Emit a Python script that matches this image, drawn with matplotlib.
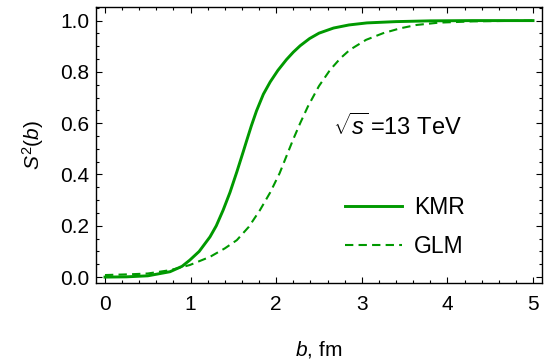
import matplotlib
matplotlib.use('Agg')
import matplotlib.pyplot as plt
from matplotlib.ticker import MultipleLocator, FormatStrFormatter

plt.rcParams['font.family'] = ['Liberation Sans', 'DejaVu Sans']
plt.rcParams['mathtext.fontset'] = 'custom'
plt.rcParams['mathtext.rm'] = 'Liberation Sans'
plt.rcParams['mathtext.it'] = 'Liberation Sans:italic'

# Valeurs
b_kmr = [0.0, 0.25, 0.5, 0.76, 0.9, 0.99, 1.1, 1.227, 1.3, 1.38, 1.46, 1.54, 1.616,
         1.655, 1.71, 1.77, 1.85, 1.93, 2.02, 2.12, 2.2, 2.28, 2.39, 2.5, 2.67,
         2.85, 3.06, 3.4, 3.8, 4.3, 5.0]
s2_kmr = [0.0, 0.001, 0.005, 0.021, 0.042, 0.066, 0.10, 0.157, 0.20, 0.261, 0.33,
          0.41, 0.49, 0.532, 0.59, 0.648, 0.713, 0.761, 0.806, 0.848, 0.877,
          0.902, 0.93, 0.951, 0.971, 0.983, 0.991, 0.996, 0.999, 1.0, 1.0]

b_glm = [0.0, 0.3, 0.5, 0.76, 0.99, 1.227, 1.4, 1.54, 1.68, 1.81, 1.93, 2.04, 2.1,
         2.16, 2.2, 2.28, 2.37, 2.5, 2.63, 2.75, 2.86, 3.05, 3.25, 3.45, 3.64,
         3.9, 4.3, 5.0]
s2_glm = [0.008, 0.011, 0.014, 0.027, 0.047, 0.079, 0.112, 0.144, 0.196, 0.261,
          0.33, 0.405, 0.455, 0.505, 0.538, 0.60, 0.665, 0.745, 0.808, 0.853, 0.886,
          0.925, 0.951, 0.970, 0.983, 0.992, 0.997, 1.0]

vert = '#009900'
W, H = 549, 362

fig = plt.figure(figsize=(W / 100, H / 100), dpi=100)
ax = fig.add_axes([96 / W, 1 - 283 / H, 446 / W, 276 / H])

ax.plot(b_kmr, s2_kmr, color=vert, lw=2.1, label='KMR')
ax.plot(b_glm, s2_glm, color=vert, lw=1.5, ls=(0, (4, 2.5)), label='GLM')

ax.set_xlim(-0.105, 5.105)
ax.set_ylim(-0.023, 1.053)

# Graduations style Mathematica : vers l'intérieur sur les 4 côtés
ax.xaxis.set_major_locator(MultipleLocator(1))
ax.xaxis.set_minor_locator(MultipleLocator(0.2))
ax.yaxis.set_major_locator(MultipleLocator(0.2))
ax.yaxis.set_minor_locator(MultipleLocator(0.05))
ax.yaxis.set_major_formatter(FormatStrFormatter('%.1f'))
ax.tick_params(which='both', direction='in', top=True, right=True, labelsize=15, width=0.8)
ax.tick_params(which='major', length=4)
ax.tick_params(which='minor', length=2.2)
ax.tick_params(axis='x', pad=9)
ax.tick_params(axis='y', pad=5)
for s in ax.spines.values():
    s.set_linewidth(1.0)

ax.set_xlabel(r'$b$, fm', fontsize=15, labelpad=18)
ax.set_ylabel(r'$S^2(b)$', fontsize=15, labelpad=10)

ax.text(2.66, 0.554, r'$\sqrt{s}\,$=13 TeV', fontsize=17, va='baseline', ha='left')

ax.legend(loc='upper left', bbox_to_anchor=(345 / W, 1 - 196 / H),
          bbox_transform=fig.transFigure, frameon=False, fontsize=16.5,
          handlelength=2.5, handletextpad=0.5, labelspacing=0.7,
          borderpad=0, borderaxespad=0)

fig.savefig('out.png', dpi=100)
